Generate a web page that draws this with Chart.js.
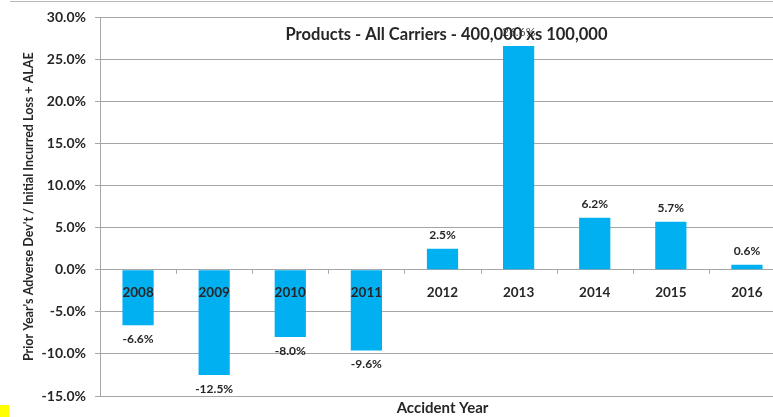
<!DOCTYPE html>
<html>
<head>
<meta charset="utf-8">
<script src="https://cdn.jsdelivr.net/npm/chart.js@4.4.1/dist/chart.umd.min.js"></script>
<style>
  html, body { margin: 0; padding: 0; background: #fff; overflow: hidden; }
  #wrap { position: relative; width: 785px; height: 417px; }
  #topline { position: absolute; left: 10px; top: 1px; width: 775px; height: 1px; background: #b8b8b8; }
  #marker { position: absolute; left: 0; top: 405px; width: 9px; height: 12px; background: #ffff00; }
</style>
</head>
<body>
<div id="wrap">
  <canvas id="devChart" width="785" height="417"></canvas>
  <div id="topline"></div>
  <div id="marker"></div>
</div>
<script>
// Accident years and adverse development ratio (%)
const years = ['2008', '2009', '2010', '2011', '2012', '2013', '2014', '2015', '2016'];
const devPct = [-6.6, -12.5, -8.0, -9.6, 2.5, 26.6, 6.2, 5.7, 0.6];
const yTicks = [-15, -10, -5, 0, 5, 10, 15, 20, 25, 30];

const chartTitle = 'Products - All Carriers - 400,000 xs 100,000';
const yTitle = "Prior Year's Adverse Dev't / Initial Incurred Loss + ALAE";
const xTitle = 'Accident Year';

const FONT = 'Lato, "Open Sans", sans-serif';
const TEXT = '#262626';
const GRID = '#a6a6a6';

// year labels + tick marks on the zero line, value labels, title in the plot
const overlay = {
  id: 'overlay',
  afterDatasetsDraw(chart) {
    const ctx = chart.ctx;
    const xs = chart.scales.x;
    const ys = chart.scales.y;
    const zero = ys.getPixelForValue(0);
    const half = (xs.getPixelForValue(1) - xs.getPixelForValue(0)) / 2;
    ctx.save();

    // small tick marks between categories
    ctx.strokeStyle = GRID;
    ctx.lineWidth = 1;
    ctx.beginPath();
    for (let i = 0; i <= years.length; i++) {
      const px = Math.round(xs.getPixelForValue(i) - half) + 0.5;
      ctx.moveTo(px, zero);
      ctx.lineTo(px, zero + 4);
    }
    ctx.stroke();

    ctx.textAlign = 'center';
    ctx.textBaseline = 'middle';
    ctx.fillStyle = TEXT;
    ctx.font = 'bold 13.5px ' + FONT;
    years.forEach((yr, i) => ctx.fillText(yr, xs.getPixelForValue(i), zero + 23));

    const meta = chart.getDatasetMeta(0);
    meta.data.forEach((bar, i) => {
      const v = devPct[i];
      const big = v > 20;
      ctx.font = (big ? '' : 'bold ') + '12px ' + FONT;
      ctx.fillStyle = big ? '#555' : TEXT;
      const y = v >= 0 ? bar.y - 14 : bar.y + 14;
      ctx.fillText(v.toFixed(1) + '%', bar.x, y);
    });

    const area = chart.chartArea;
    ctx.font = 'bold 16.5px ' + FONT;
    ctx.fillStyle = TEXT;
    ctx.fillText(chartTitle, (area.left + area.right) / 2 + 4, 35);
    ctx.restore();
  }
};

new Chart(document.getElementById('devChart'), {
  type: 'bar',
  data: {
    labels: years,
    datasets: [{
      data: devPct,
      backgroundColor: '#00b0f0',
      borderWidth: 0,
      categoryPercentage: 1,
      barPercentage: 0.41
    }]
  },
  options: {
    responsive: false,
    animation: false,
    layout: { padding: { top: 17, left: 0, right: 0, bottom: 0 } },
    plugins: {
      legend: { display: false },
      tooltip: { enabled: false },
      title: {
        display: true,
        position: 'bottom',
        fullSize: false,
        text: xTitle,
        color: TEXT,
        font: { family: FONT, size: 15, weight: 'bold' },
        padding: { top: 3, bottom: 0 }
      }
    },
    scales: {
      x: {
        afterFit: s => { s.height = 0; },
        grid: { display: false },
        border: { display: false },
        ticks: { display: false }
      },
      y: {
        min: -15,
        max: 30,
        afterFit: s => { s.width = 100; },
        afterBuildTicks: s => { s.ticks = yTicks.map(v => ({ value: v })); },
        grid: { color: GRID, tickLength: 5 },
        border: { display: true, color: GRID },
        ticks: {
          color: TEXT,
          padding: 9,
          font: { family: FONT, size: 14, weight: 'bold' },
          callback: v => v.toFixed(1) + '%'
        },
        title: {
          display: true,
          text: yTitle,
          color: TEXT,
          font: { family: FONT, size: 12.5, weight: 'bold' },
          padding: { top: 21, bottom: 0 }
        }
      }
    }
  },
  plugins: [overlay]
});
</script>
</body>
</html>
